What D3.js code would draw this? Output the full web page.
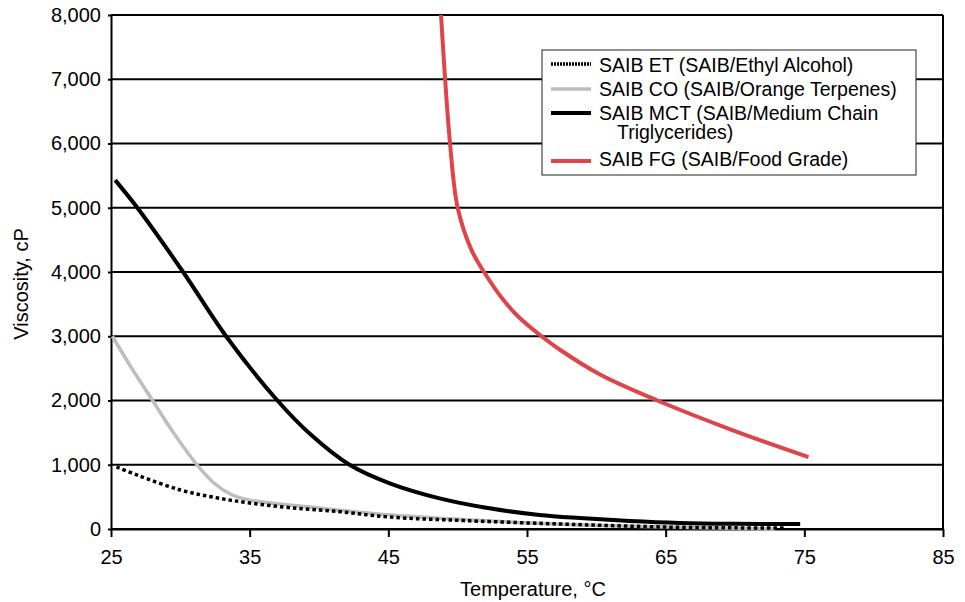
<!DOCTYPE html>
<html>
<head>
<meta charset="utf-8">
<script src="https://cdn.jsdelivr.net/npm/d3@7"></script>
<style>
  body { margin: 0; background: #fff; }
  svg { display: block; }
  text { font-family: "Liberation Sans", Arial, sans-serif; fill: #000; }
</style>
</head>
<body>
<div id="chart"></div>
<script>
// viscosity (cP) vs temperature (°C)
var etTemp = [25.4, 27, 30, 32.5, 35, 38, 41.5, 45, 50, 55, 60, 65, 70, 73.7]
var etVisc = [965, 830, 607, 490, 405, 330, 270, 187, 135, 95, 60, 30, 18, 15]

var coTemp = [25.1, 26.5, 28, 29.5, 31.2, 32.4, 33.6, 35, 39.5, 45, 50, 55, 60, 65, 70, 72.9]
var coVisc = [3000, 2500, 2000, 1500, 1000, 720, 545, 450, 340, 220, 150, 95, 55, 30, 12, 0]

var mctTemp = [25.3, 26.9, 30.2, 33.3, 37, 39.4, 42.2, 45.1, 48.7, 52.3, 55.9, 58.8, 62.4, 66, 70, 74.7]
var mctVisc = [5430, 5000, 4000, 3000, 2000, 1470, 1000, 711, 477, 322, 218, 170, 125, 95, 82, 78]

var fgTemp = [48.8, 49.45, 50, 51, 51.9, 53.3, 54.4, 56.05, 57.4, 60.3, 64.4, 69.8, 75.3]
var fgVisc = [8000, 6000, 5000, 4340, 4000, 3564, 3300, 3000, 2786, 2400, 2000, 1540, 1120]

var xTicks = [25, 35, 45, 55, 65, 75, 85]
var yTicks = [0, 1000, 2000, 3000, 4000, 5000, 6000, 7000, 8000]

var seriesNames = [
  ['SAIB ET (SAIB/Ethyl Alcohol)'],
  ['SAIB CO (SAIB/Orange Terpenes)'],
  ['SAIB MCT (SAIB/Medium Chain', 'Triglycerides)'],
  ['SAIB FG (SAIB/Food Grade)'],
]

var width = 965
var height = 602
var margin = { top: 15, right: 22, bottom: 73, left: 111 }

var svg = d3
  .select('#chart')
  .append('svg')
  .attr('width', width)
  .attr('height', height)

var x = d3
  .scaleLinear()
  .domain([25, 85])
  .range([margin.left, width - margin.right])

var y = d3
  .scaleLinear()
  .domain([0, 8000])
  .range([height - margin.bottom, margin.top])

// horizontal grid lines
svg
  .append('g')
  .selectAll('line')
  .data(yTicks)
  .enter()
  .append('line')
  .attr('x1', x(25))
  .attr('x2', x(85))
  .attr('y1', function(d) { return y(d) })
  .attr('y2', function(d) { return y(d) })
  .style('stroke', '#000')
  .style('stroke-width', 2)

// right border
svg
  .append('line')
  .attr('x1', x(85))
  .attr('x2', x(85))
  .attr('y1', y(8000))
  .attr('y2', y(0))
  .style('stroke', '#000')
  .style('stroke-width', 2)

var xAxis = svg
  .append('g')
  .attr('transform', 'translate(0,' + y(0) + ')')
  .call(d3.axisBottom(x).tickValues(xTicks).tickSize(8).tickSizeOuter(0).tickPadding(13))
xAxis
  .attr('font-family', null)
  .selectAll('text')
  .style('font-size', '20px')

var yAxis = svg
  .append('g')
  .attr('transform', 'translate(' + x(25) + ',0)')
  .call(
    d3
      .axisLeft(y)
      .tickValues(yTicks)
      .tickSize(3)
      .tickSizeOuter(0)
      .tickPadding(7)
      .tickFormat(d3.format(','))
  )
yAxis
  .attr('font-family', null)
  .selectAll('text')
  .style('font-size', '20px')

svg.selectAll('.domain, .tick line').style('stroke', '#000').style('stroke-width', 2)

svg
  .append('text')
  .attr('x', 533)
  .attr('y', 596)
  .attr('text-anchor', 'middle')
  .style('font-size', '20px')
  .text('Temperature, °C')

svg
  .append('text')
  .attr('transform', 'translate(28,284) rotate(-90)')
  .attr('text-anchor', 'middle')
  .style('font-size', '20px')
  .text('Viscosity, cP')

var line = d3
  .line()
  .x(function(d) { return x(d[0]) })
  .y(function(d) { return y(d[1]) })
  .curve(d3.curveCatmullRom.alpha(0.5))

var styles = [
  { color: '#000', w: 3.5, dash: '3.5,3' },
  { color: '#bdbdbd', w: 3.5, dash: null },
  { color: '#000', w: 4, dash: null },
  { color: '#e0444b', w: 4, dash: null },
]

// gray first so the dotted line sits on top of it
var series = [
  { pts: d3.zip(coTemp, coVisc), s: styles[1] },
  { pts: d3.zip(etTemp, etVisc), s: styles[0] },
  { pts: d3.zip(mctTemp, mctVisc), s: styles[2] },
  { pts: d3.zip(fgTemp, fgVisc), s: styles[3] },
]

series.forEach(function(d) {
  svg
    .append('path')
    .datum(d.pts)
    .attr('d', line)
    .style('fill', 'none')
    .style('stroke', d.s.color)
    .style('stroke-width', d.s.w)
    .style('stroke-dasharray', d.s.dash)
})

// legend
var legend = svg.append('g')
legend
  .append('rect')
  .attr('x', 542)
  .attr('y', 50)
  .attr('width', 374)
  .attr('height', 125)
  .style('fill', '#fff')
  .style('stroke', '#222')
  .style('stroke-width', 1)

var sampleY = [64, 89, 113, 161]
var textY = [71.5, 96, 119.5, 166]
seriesNames.forEach(function(lines, i) {
  var s = styles[i]
  legend
    .append('line')
    .attr('x1', 551)
    .attr('x2', 591)
    .attr('y1', sampleY[i])
    .attr('y2', sampleY[i])
    .style('stroke', s.color)
    .style('stroke-width', s.w)
    .style('stroke-dasharray', s.dash ? '2,1' : null)
  lines.forEach(function(t, j) {
    legend
      .append('text')
      .attr('x', j == 0 ? 599 : 617)
      .attr('y', textY[i] + j * 19)
      .style('font-size', '19.5px')
      .text(t)
  })
})
</script>
</body>
</html>
